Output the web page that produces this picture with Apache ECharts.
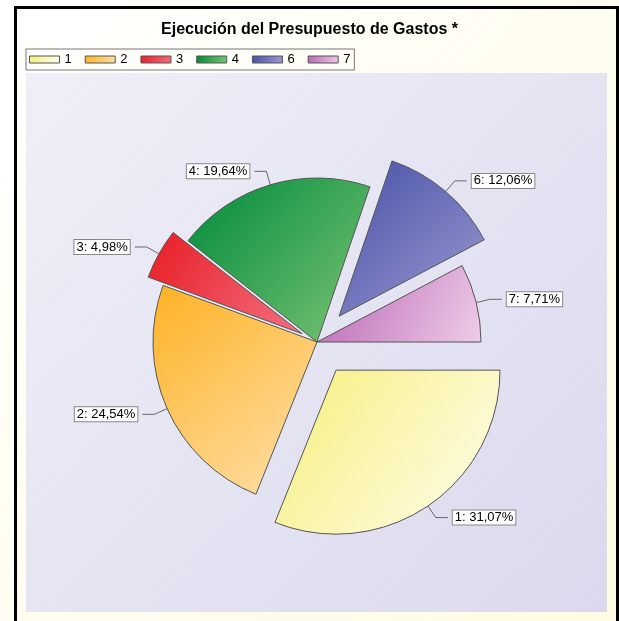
<!DOCTYPE html>
<html>
<head>
<meta charset="utf-8">
<script src="https://cdn.jsdelivr.net/npm/echarts@6/dist/echarts.min.js"></script>
<style>
  html, body { margin: 0; padding: 0; background: #fffdf0; }
  #chart { width: 619px; height: 621px; }
</style>
</head>
<body>
<div id="chart"></div>
<script>
var categories = ['1', '2', '3', '4', '6', '7'];
var values = [31.07, 24.54, 4.98, 19.64, 12.06, 7.71];
// slices pulled out of the pie, and by how much
var farOut = ['1', '6'];
var nearOut = ['3'];
// gradient pairs (top-left -> bottom-right)
var colorsFrom = ['#f6ef7c', '#fdb224', '#e81c24', '#008a3c', '#4650a6', '#b865b3'];
var colorsTo = ['#fffdf0', '#ffe0ac', '#f27080', '#7cc474', '#9c9ad2', '#efcde8'];

function grad(i) {
    return new echarts.graphic.LinearGradient(0, 0, 1, 1, [
        { offset: 0, color: colorsFrom[i] },
        { offset: 1, color: colorsTo[i] }
    ]);
}

var labelStyle = {
    show: true,
    position: 'outside',
    fontFamily: 'Liberation Sans',
    fontSize: 13,
    color: '#000',
    backgroundColor: '#fff',
    borderColor: '#888',
    borderWidth: 1,
    padding: [1, 2, 0, 2],
    formatter: function (p) {
        return p.name + ': ' + p.value.toFixed(2).replace('.', ',') + '%';
    }
};

// one pie layer; only the slices named in "shown" are painted
function pieLayer(shown, pulled, offset) {
    return {
        type: 'pie',
        center: [317, 342],
        radius: [0, 164],
        startAngle: 0,
        clockwise: true,
        selectedMode: 'multiple',
        selectedOffset: offset,
        avoidLabelOverlap: false,
        itemStyle: { borderColor: '#555', borderWidth: 1 },
        select: { itemStyle: { borderColor: '#555', borderWidth: 1 } },
        emphasis: { disabled: true },
        label: labelStyle,
        labelLine: {
            show: true,
            length: 14,
            length2: 12,
            lineStyle: { color: '#666', width: 1 }
        },
        data: categories.map(function (c, i) {
            var on = shown.indexOf(c) >= 0;
            return {
                name: c,
                value: values[i],
                selected: pulled.indexOf(c) >= 0,
                itemStyle: on ? { color: grad(i) } : { color: 'rgba(0,0,0,0)', borderWidth: 0 },
                label: { show: on },
                labelLine: { show: on }
            };
        })
    };
}

var myChart = echarts.init(document.getElementById('chart'));

var option = {
    animation: false,
    backgroundColor: '#fffdf0',
    title: {
        text: 'Ejecución del Presupuesto de Gastos *',
        left: 'center',
        top: 17,
        textStyle: {
            fontFamily: 'Liberation Sans',
            fontSize: 16,
            fontWeight: 'bold',
            color: '#000'
        }
    },
    legend: {
        left: 26,
        top: 49,
        orient: 'horizontal',
        icon: 'rect',
        itemWidth: 30,
        itemHeight: 7,
        itemGap: 13,
        padding: [4, 4, 4, 3],
        borderColor: '#777',
        borderWidth: 1,
        textStyle: { fontFamily: 'Liberation Sans', fontSize: 13, color: '#000' },
        data: categories.map(function (c, i) {
            return { name: c, itemStyle: { color: grad(i), borderColor: '#555', borderWidth: 1 } };
        })
    },
    graphic: [
        {
            type: 'rect',
            z: -10,
            shape: { x: 0, y: 0, width: 619, height: 621 },
            style: {
                fill: new echarts.graphic.LinearGradient(0, 0, 1, 1, [
                    { offset: 0, color: '#ffffff' },
                    { offset: 1, color: '#fffbe2' }
                ])
            }
        },
        {
            type: 'rect',
            z: -9,
            shape: { x: 26, y: 73, width: 581, height: 539 },
            style: {
                fill: new echarts.graphic.LinearGradient(0, 0, 1, 1, [
                    { offset: 0, color: '#efeff8' },
                    { offset: 1, color: '#dbd9ed' }
                ])
            }
        },
        {
            type: 'rect',
            z: -8,
            shape: { x: 15.5, y: 7.5, width: 602, height: 650 },
            style: { fill: 'none', stroke: '#000', lineWidth: 3 }
        }
    ],
    series: [
        pieLayer(nearOut, nearOut, 17),
        pieLayer(categories.filter(function (c) { return nearOut.indexOf(c) < 0; }), farOut, 34)
    ]
};

myChart.setOption(option);
</script>
</body>
</html>
